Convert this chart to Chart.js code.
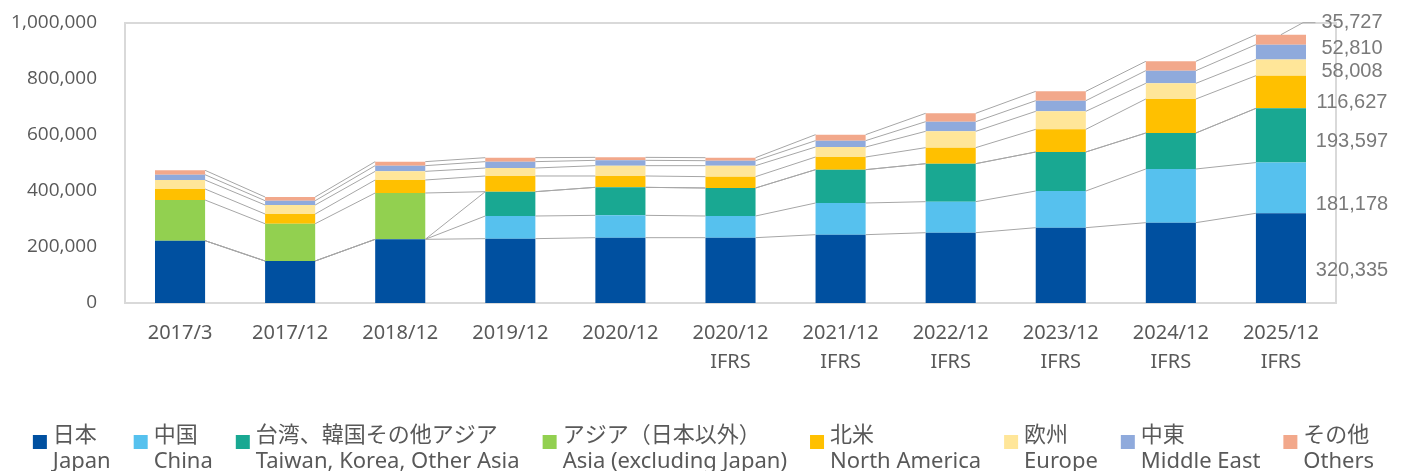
<!DOCTYPE html>
<html>
<head>
<meta charset="utf-8">
<script src="https://cdn.jsdelivr.net/npm/chart.js@4.4.1/dist/chart.umd.min.js"></script>
<style>
  html, body { margin: 0; padding: 0; background: #ffffff; }
  #wrap { width: 1407px; height: 471px; position: relative; }
</style>
</head>
<body>
<div id="wrap"><canvas id="c" width="1407" height="471"></canvas></div>
<script>
// ---- data ----
const categories = ['2017/3', '2017/12', '2018/12', '2019/12', '2020/12',
  ['2020/12', 'IFRS'], ['2021/12', 'IFRS'], ['2022/12', 'IFRS'], ['2023/12', 'IFRS'],
  ['2024/12', 'IFRS'], ['2025/12', 'IFRS']];
const seriesNamesJa = ['日本', '中国', '台湾、韓国その他アジア', 'アジア（日本以外）', '北米', '欧州', '中東', 'その他'];
const seriesNamesEn = ['Japan', 'China', 'Taiwan, Korea, Other Asia', 'Asia (excluding Japan)', 'North America', 'Europe', 'Middle East', 'Others'];
const japan        = [222500, 150000, 227400, 229800, 233300, 233300, 244000, 251100, 269000, 286900, 320335];
const china        = [0, 0, 0, 80900, 79800, 77400, 113100, 110800, 131000, 191700, 181178];
const taiwanKorea  = [0, 0, 0, 86900, 100000, 100000, 119100, 135700, 139300, 128500, 193597];
const asiaExJapan  = [145300, 133200, 165500, 0, 0, 0, 0, 0, 0, 0, 0];
const northAmerica = [39300, 34700, 46400, 56000, 40500, 40500, 45200, 57200, 80900, 121500, 116627];
const europe       = [32100, 32100, 30900, 28500, 36900, 39300, 35700, 58300, 64300, 55900, 58008];
const middleEast   = [18900, 15400, 20300, 22700, 19000, 17800, 22700, 34500, 38100, 45300, 52810];
const others       = [15700, 13200, 14300, 14200, 10700, 10700, 21400, 29800, 33300, 33300, 35727];
const yTicks = [0, 200000, 400000, 600000, 800000, 1000000];

// ---- styles ----
const colors = ['#0050a0', '#56c1ee', '#19a892', '#92d050', '#ffc000', '#ffe699', '#8faadc', '#f2a88b'];
const seriesValues = [japan, china, taiwanKorea, asiaExJapan, northAmerica, europe, middleEast, others];
const labelOffsets = [12, 17, 6, 0, 10, 4, -4, -17]; // vertical nudges for last-bar labels (px)
const TEXT = '#595959';
const FONT_UI = '"Noto Sans", "Noto Sans CJK JP", sans-serif';

const fmt = v => Math.round(v).toLocaleString('en-US');

const datasets = seriesValues.map((vals, i) => ({
  label: seriesNamesJa[i],
  data: vals,
  backgroundColor: colors[i],
  borderWidth: 0,
  categoryPercentage: 1.0,
  barPercentage: 0.455,
  stack: 's'
}));

const frame = {
  id: 'frame',
  beforeDatasetsDraw(chart) {
    const { ctx, chartArea: a } = chart;
    ctx.save();
    ctx.strokeStyle = '#d9d9d9';
    ctx.lineWidth = 2;
    ctx.strokeRect(a.left, a.top, a.right - a.left, a.bottom - a.top);
    ctx.restore();
  }
};

const seriesLines = {
  id: 'seriesLines',
  afterDatasetsDraw(chart) {
    const ctx = chart.ctx;
    ctx.save();
    ctx.strokeStyle = '#a6a6a6';
    ctx.lineWidth = 1;
    chart.data.datasets.forEach((ds, d) => {
      const meta = chart.getDatasetMeta(d);
      for (let i = 0; i < meta.data.length - 1; i++) {
        const a = meta.data[i].getProps(['x', 'y', 'width'], true);
        const b = meta.data[i + 1].getProps(['x', 'y', 'width'], true);
        ctx.beginPath();
        ctx.moveTo(a.x + a.width / 2, a.y);
        ctx.lineTo(b.x - b.width / 2, b.y);
        ctx.stroke();
      }
    });
    // data labels for the last bar
    const last = chart.data.labels.length - 1;
    const lx = chart.chartArea.right + 16;
    ctx.font = '20px "Liberation Sans", Arial, sans-serif';
    ctx.fillStyle = '#7a7a7a';
    ctx.textAlign = 'center';
    ctx.textBaseline = 'middle';
    chart.data.datasets.forEach((ds, d) => {
      const v = ds.data[last];
      if (!v) return;
      const el = chart.getDatasetMeta(d).data[last].getProps(['x', 'y', 'base', 'width'], true);
      const y = (el.y + el.base) / 2 + labelOffsets[d];
      const txt = fmt(v);
      ctx.fillText(txt, lx, y);
      if (d === chart.data.datasets.length - 1) {
        const w = ctx.measureText(txt).width;
        ctx.beginPath();
        ctx.moveTo(el.x, el.y);
        ctx.lineTo(el.x + el.width / 2 - 3, y);
        ctx.lineTo(lx - w / 2 - 6, y);
        ctx.stroke();
      }
    });
    ctx.restore();
  }
};

const legend2 = {
  id: 'legend2',
  afterDraw(chart) {
    const ctx = chart.ctx;
    ctx.save();
    ctx.font = '22px ' + FONT_UI;
    const box = 14, boxGap = 6, gap = 23;
    const items = chart.data.datasets.map((ds, i) => {
      const w = Math.max(ctx.measureText(seriesNamesJa[i]).width, ctx.measureText(seriesNamesEn[i]).width);
      return { w, color: colors[i], ja: seriesNamesJa[i], en: seriesNamesEn[i] };
    });
    const total = items.reduce((s, it) => s + box + boxGap + it.w, 0) + gap * (items.length - 1);
    let x = (chart.width - total) / 2;
    const y1 = 436, y2 = 462;
    ctx.textBaseline = 'middle';
    ctx.textAlign = 'left';
    items.forEach(it => {
      ctx.fillStyle = it.color;
      ctx.fillRect(x, 435, box, box);
      ctx.fillStyle = TEXT;
      ctx.fillText(it.ja, x + box + boxGap, y1);
      ctx.fillText(it.en, x + box + boxGap, y2);
      x += box + boxGap + it.w + gap;
    });
    ctx.restore();
  }
};

new Chart(document.getElementById('c'), {
  type: 'bar',
  data: { labels: categories, datasets },
  options: {
    responsive: false,
    devicePixelRatio: 1,
    animation: false,
    layout: { padding: { left: 0, right: 71, top: 23, bottom: 91 } },
    plugins: { legend: { display: false }, tooltip: { enabled: false } },
    scales: {
      x: {
        stacked: true,
        grid: { display: false, drawTicks: false },
        border: { display: false },
        ticks: {
          color: TEXT, padding: 16, maxRotation: 0, autoSkip: false,
          font: { family: FONT_UI, size: 20, lineHeight: 1.45 }
        },
        afterFit(s) { s.height = 77; s.paddingLeft = 0; s.paddingRight = 0; s.paddingTop = 0; s.paddingBottom = 0; }
      },
      y: {
        stacked: true,
        min: 0, max: 1000000,
        grid: { display: false, drawTicks: false },
        border: { display: false },
        afterBuildTicks(s) { s.ticks = yTicks.map(v => ({ value: v })); },
        ticks: {
          color: TEXT, padding: 28,
          font: { family: '"Open Sans", sans-serif', size: 19 },
          callback: v => fmt(v)
        },
        afterFit(s) { s.width = 125; s.paddingTop = 0; s.paddingBottom = 0; s.paddingLeft = 0; s.paddingRight = 0; }
      }
    }
  },
  plugins: [frame, seriesLines, legend2]
});
</script>
</body>
</html>
